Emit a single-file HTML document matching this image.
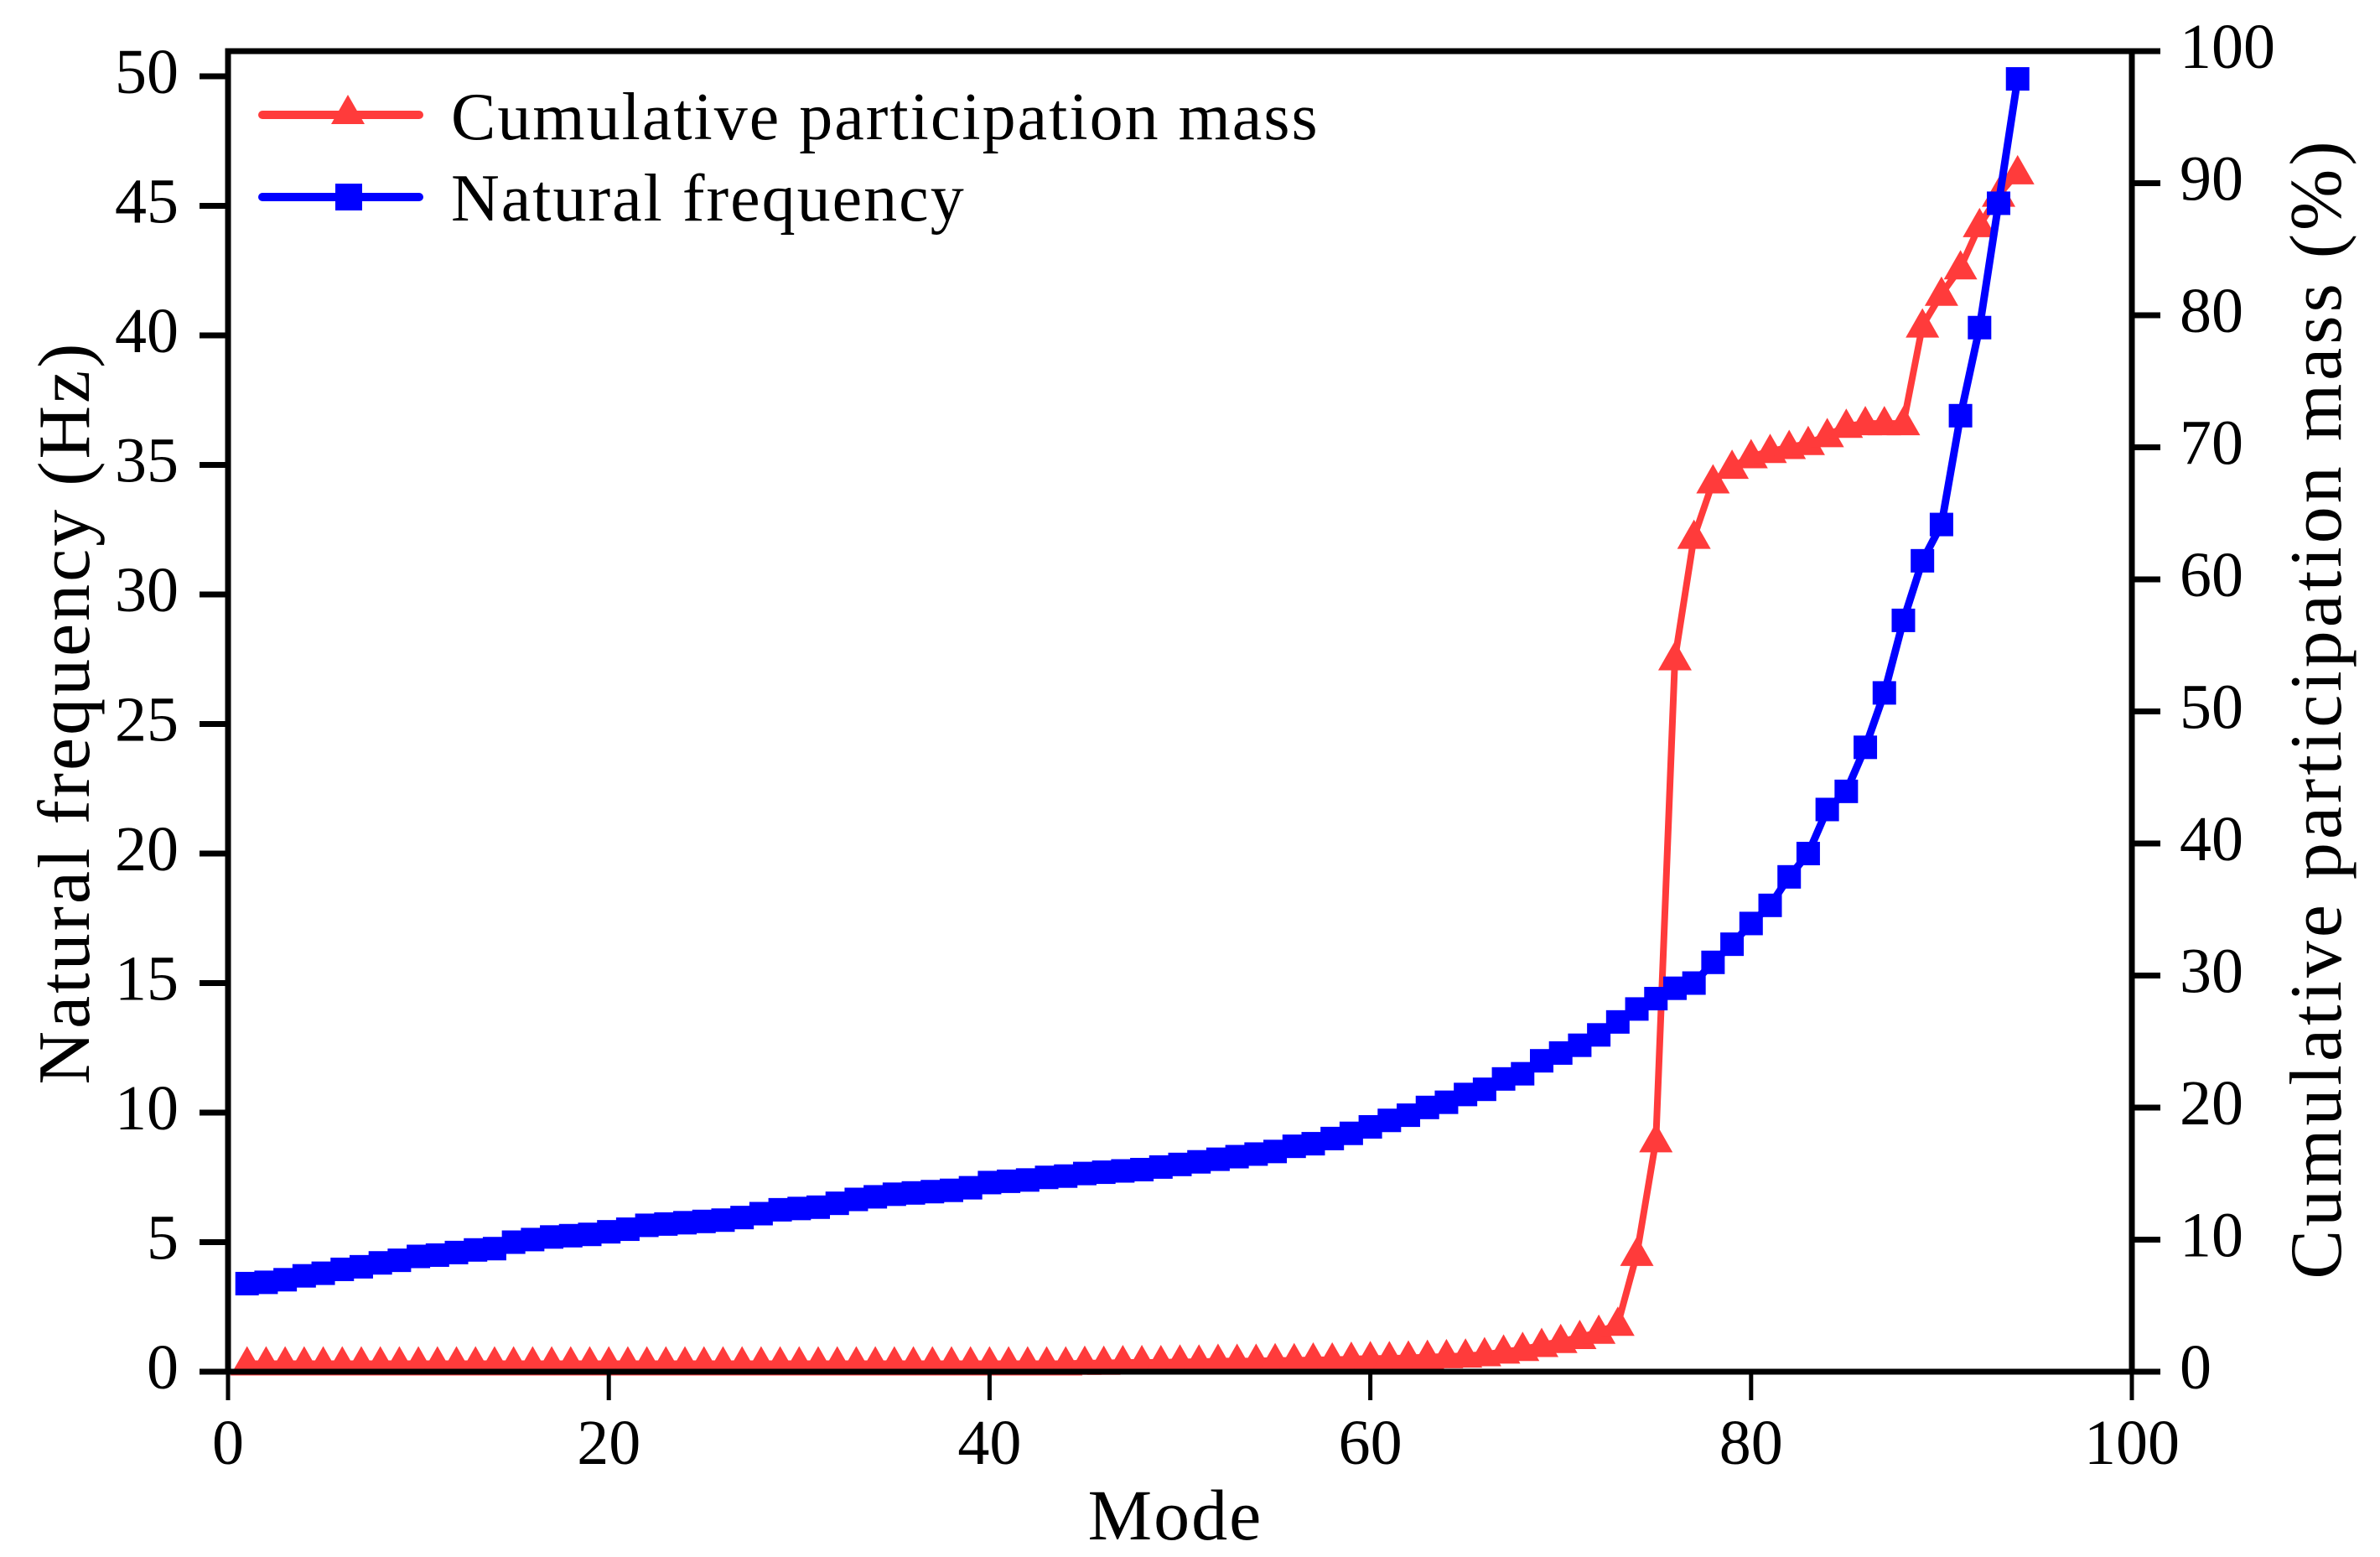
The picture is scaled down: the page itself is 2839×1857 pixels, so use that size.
<!DOCTYPE html>
<html><head><meta charset="utf-8"><style>
html,body{margin:0;padding:0;background:#fff;}
svg{display:block;font-family:"Liberation Serif",serif;}
</style></head><body>
<svg id="chart" width="2839" height="1857" viewBox="0 0 2839 1857">
<g id="marks"></g>
<g id="axes"></g>
</svg>
<script>
const modes = Array.from({length:94},(_,i)=>i+1);
const frequency = [3.4,3.45,3.55,3.7,3.8,3.95,4.05,4.2,4.3,4.45,4.5,4.6,4.7,4.75,5.0,5.1,5.2,5.25,5.3,5.4,5.5,5.65,5.7,5.75,5.8,5.85,5.95,6.1,6.25,6.3,6.35,6.5,6.65,6.75,6.85,6.9,6.95,7.0,7.1,7.3,7.35,7.4,7.5,7.55,7.65,7.7,7.75,7.8,7.9,8.0,8.1,8.2,8.3,8.4,8.5,8.7,8.8,9.0,9.2,9.45,9.7,9.9,10.2,10.4,10.7,10.9,11.3,11.5,12.0,12.3,12.6,13.0,13.5,14.0,14.4,14.8,15.0,15.8,16.5,17.3,18.0,19.1,20.0,21.7,22.4,24.1,26.2,29.0,31.3,32.7,36.9,40.3,45.1,49.9];
const massPct = [0.6,0.6,0.6,0.6,0.6,0.6,0.6,0.6,0.6,0.6,0.6,0.6,0.6,0.6,0.6,0.6,0.6,0.6,0.6,0.6,0.6,0.6,0.6,0.6,0.6,0.6,0.6,0.6,0.6,0.6,0.6,0.6,0.6,0.6,0.6,0.6,0.6,0.6,0.6,0.6,0.6,0.6,0.6,0.6,0.65,0.65,0.7,0.7,0.7,0.75,0.75,0.8,0.8,0.8,0.85,0.85,0.9,0.9,0.95,1.0,1.0,1.05,1.1,1.15,1.2,1.3,1.5,1.7,2.0,2.3,2.6,3.0,3.6,8.9,17.5,54.0,63.2,67.4,68.5,69.3,69.7,70.0,70.3,70.9,71.6,71.8,71.8,71.8,79.2,81.6,83.6,86.8,89.1,90.8];
const xTicks = [0,20,40,60,80,100];
const yLeftTicks = [0,5,10,15,20,25,30,35,40,45,50];
const yRightTicks = [0,10,20,30,40,50,60,70,80,90,100];

const L=272,R=2543,T=61,B=1636;
const xS=v=>L+v*(R-L)/100;
const yL=v=>B-v*(B-91)/50;
const yR=v=>B-v*(B-T)/100;
const NS='http://www.w3.org/2000/svg';
function mk(tag,attrs,parent){const e=document.createElementNS(NS,tag);for(const k in attrs)e.setAttribute(k,attrs[k]);parent.appendChild(e);return e;}
const marks=document.getElementById('marks'),axes=document.getElementById('axes');

let rl=mk('polyline',{points:modes.map((m,i)=>xS(m)+','+yR(massPct[i])).join(' '),fill:'none',stroke:'#ff3b3b','stroke-width':8},marks);


modes.forEach((m,i)=>{const x=xS(m),y=yR(massPct[i]);
 const t=mk('polygon',{points:`${x},${y-21} ${x-20},${y+14} ${x+20},${y+14}`,fill:'#ff3b3b'},marks);
 
 });
let bl=mk('polyline',{points:modes.map((m,i)=>xS(m)+','+yL(frequency[i])).join(' '),fill:'none',stroke:'#0000ff','stroke-width':9},marks);


modes.forEach((m,i)=>{const x=xS(m),y=yL(frequency[i]);
 const s=mk('rect',{x:x-14,y:y-14,width:28,height:28,fill:'#0000ff'},marks);
 
 });

const fr=mk('rect',{x:L,y:T,width:R-L,height:B-T,fill:'none',stroke:'#000','stroke-width':7},axes);


const fs=76;
xTicks.forEach(v=>{const x=xS(v);
 mk('line',{x1:x,y1:B,x2:x,y2:B+34,stroke:'#000','stroke-width':5},axes);
 const t=mk('text',{x:x,y:1746,'font-size':fs,'text-anchor':'middle'},axes);t.textContent=v;
 
 });
yLeftTicks.forEach(v=>{const y=yL(v);
 mk('line',{x1:L-34,y1:y,x2:L,y2:y,stroke:'#000','stroke-width':7},axes);
 const t=mk('text',{x:213,y:y+20,'font-size':fs,'text-anchor':'end'},axes);t.textContent=v;
 
 });
yRightTicks.forEach(v=>{const y=yR(v);
 mk('line',{x1:R,y1:y,x2:R+34,y2:y,stroke:'#000','stroke-width':7},axes);
 const t=mk('text',{x:2600,y:y+20,'font-size':fs,'text-anchor':'start'},axes);t.textContent=v;
 
 });
</script>
<script>
(function(){const s=document.getElementById('chart');
s.insertAdjacentHTML('beforeend',`
<text x="1402" y="1836" font-size="86" text-anchor="middle" letter-spacing="2">Mode</text>
<text transform="translate(106,850) rotate(-90)" font-size="88" text-anchor="middle" letter-spacing="3">Natural frequency (Hz)</text>
<text transform="translate(2792,845) rotate(-90)" font-size="88" text-anchor="middle" letter-spacing="4">Cumulative participation mass (%)</text>
<g>
<g>
<line x1="313" y1="137" x2="500" y2="137" stroke="#ff3b3b" stroke-width="10" stroke-linecap="round"/>
<polygon points="415,113 395,148 435,148" fill="#ff3b3b"/>
<text x="538" y="166" font-size="80" letter-spacing="2">Cumulative participation mass</text></g>
<g>
<line x1="313" y1="235" x2="500" y2="235" stroke="#0000ff" stroke-width="10" stroke-linecap="round"/>
<rect x="400" y="219" width="32" height="32" fill="#0000ff"/>
<text x="538" y="263" font-size="80" letter-spacing="2">Natural frequency</text></g>
</g>`);})();
</script>
</body></html>
